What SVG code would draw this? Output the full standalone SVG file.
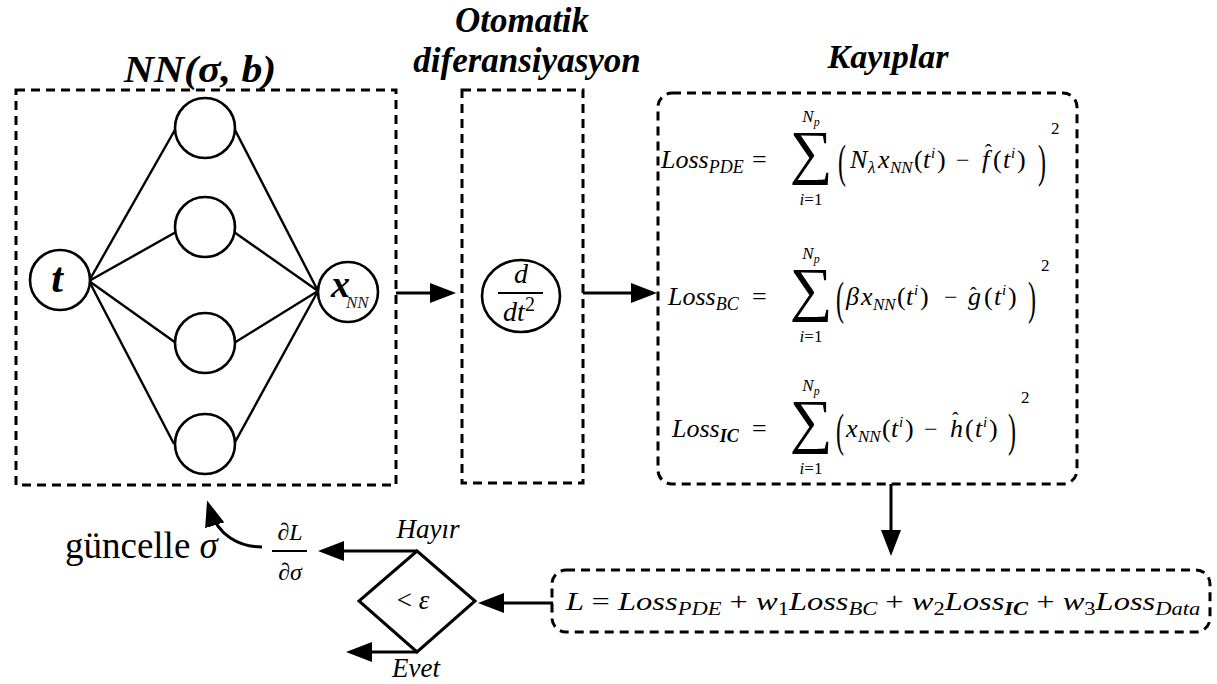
<svg xmlns="http://www.w3.org/2000/svg" width="1217" height="684" viewBox="0 0 1217 684">
<defs>
<style>
.box{fill:none;stroke:#000;stroke-width:3;stroke-dasharray:9 6}
.nd{fill:#fff;stroke:#000;stroke-width:2.6}
.ed{stroke:#000;stroke-width:2.4;fill:none}
.cn{stroke:#000;stroke-width:3;fill:none}
</style>
<marker id="ah" viewBox="0 0 26 20" refX="16" refY="10" markerWidth="26" markerHeight="20" markerUnits="userSpaceOnUse" orient="auto"><path d="M0,0 L26,10 L0,20 z" fill="#000"/></marker>
</defs>
<rect width="1217" height="684" fill="#fff"/>

<!-- titles -->
<g id="titles">
<text transform="translate(200,82) scale(1.1,1)" font-family="Liberation Serif" font-style="italic" font-weight="bold" text-anchor="middle" font-size="38">NN(σ, b)</text>
<text x="522" y="32" font-family="Liberation Serif" font-style="italic" font-weight="bold" text-anchor="middle" font-size="35">Otomatik</text>
<text x="527" y="72" font-family="Liberation Serif" font-style="italic" font-weight="bold" text-anchor="middle" font-size="35">diferansiyasyon</text>
<text x="888" y="68" font-family="Liberation Serif" font-style="italic" font-weight="bold" text-anchor="middle" font-size="34">Kayıplar</text>
</g>

<!-- NN box -->
<g id="nn">
<rect class="box" x="16" y="90" width="380" height="395"/>
<g id="nn-edges">
<line class="ed" x1="89" y1="281" x2="176" y2="128"/>
<line class="ed" x1="89" y1="281" x2="176" y2="232"/>
<line class="ed" x1="89" y1="281" x2="176" y2="343"/>
<line class="ed" x1="89" y1="281" x2="174" y2="444"/>
<line class="ed" x1="234" y1="128" x2="318" y2="291"/>
<line class="ed" x1="234" y1="232" x2="318" y2="291"/>
<line class="ed" x1="234" y1="343" x2="318" y2="291"/>
<line class="ed" x1="234" y1="444" x2="318" y2="291"/>
</g>
<g id="node-t"><circle class="nd" cx="60" cy="280" r="30"/><text x="57" y="292" font-family="Liberation Serif" font-style="italic" font-weight="bold" font-size="42" text-anchor="middle">t</text></g>
<g id="node-h1"><circle class="nd" cx="205" cy="128" r="30"/></g>
<g id="node-h2"><circle class="nd" cx="205" cy="227" r="30"/></g>
<g id="node-h3"><circle class="nd" cx="205" cy="343" r="30"/></g>
<g id="node-h4"><circle class="nd" cx="205" cy="444" r="30"/></g>
<g id="node-x"><circle class="nd" cx="348" cy="292" r="30"/><text x="331" y="297" font-family="Liberation Serif" font-style="italic" font-weight="bold" font-size="38">x</text><text x="346" y="308" font-family="Liberation Serif" font-style="italic" font-size="17" fill="#222">NN</text></g>
</g>

<!-- autodiff -->
<g id="autodiff">
<rect class="box" x="462" y="90" width="121" height="393"/>
<ellipse class="nd" cx="521" cy="296" rx="39" ry="36"/>
<text x="521" y="283" font-family="Liberation Serif" font-style="italic" text-anchor="middle" font-size="28">d</text>
<line x1="498" y1="293" x2="543" y2="293" stroke="#000" stroke-width="2"/>
<text x="519" y="321" font-family="Liberation Serif" font-style="italic" text-anchor="middle" font-size="28">dt<tspan font-style="normal" font-size="20" dy="-10">2</tspan></text>
</g>

<!-- losses -->
<g id="losses">
<rect class="box" x="658" y="93" width="419" height="391" rx="14"/>
<!-- PDE -->
<text x="661" y="168" font-family="Liberation Serif" font-style="italic" font-size="26">Loss<tspan font-size="18" dy="5">PDE</tspan></text>
<text x="752" y="168" font-family="Liberation Serif" font-size="26">=</text>
<text x="811" y="172" font-family="Liberation Serif" font-size="60" text-anchor="middle">∑</text>
<text x="811" y="122" font-family="Liberation Serif" font-style="italic" font-size="17" text-anchor="middle">N<tspan font-size="12" dy="4">p</tspan></text>
<text x="811" y="205" font-family="Liberation Serif" font-style="italic" font-size="17" text-anchor="middle">i<tspan font-style="normal">=1</tspan></text>
<text font-family="Liberation Serif" font-size="24" transform="translate(838,177) scale(1,1.9)">(</text>
<text y="168" font-family="Liberation Serif" font-style="italic" font-size="26"><tspan x="850">N</tspan><tspan x="868" dy="5" font-size="17">λ</tspan><tspan x="878" dy="-5">x</tspan><tspan x="890" dy="5" font-size="17">NN</tspan><tspan x="914" dy="-5" font-style="normal">(</tspan><tspan x="923">t</tspan><tspan x="931" dy="-10" font-size="15">i</tspan><tspan x="937" dy="10" font-style="normal">)</tspan></text>
<text x="956" y="168" font-family="Liberation Serif" font-size="24">−</text>
<text y="168" font-family="Liberation Serif" font-style="italic" font-size="26"><tspan x="982">f</tspan><tspan x="993" font-style="normal">(</tspan><tspan x="1003">t</tspan><tspan x="1011" dy="-10" font-size="15">i</tspan><tspan x="1017" dy="10" font-style="normal">)</tspan></text>
<text x="985" y="159" font-family="Liberation Serif" font-size="20">ˆ</text>
<text font-family="Liberation Serif" font-size="24" transform="translate(1038,177) scale(1,1.9)">)</text>
<text x="1051" y="134" font-family="Liberation Serif" font-size="17">2</text>
<!-- BC -->
<text x="668" y="305" font-family="Liberation Serif" font-style="italic" font-size="26">Loss<tspan font-size="18" dy="5">BC</tspan></text>
<text x="752" y="305" font-family="Liberation Serif" font-size="26">=</text>
<text x="811" y="309" font-family="Liberation Serif" font-size="60" text-anchor="middle">∑</text>
<text x="811" y="259" font-family="Liberation Serif" font-style="italic" font-size="17" text-anchor="middle">N<tspan font-size="12" dy="4">p</tspan></text>
<text x="811" y="342" font-family="Liberation Serif" font-style="italic" font-size="17" text-anchor="middle">i<tspan font-style="normal">=1</tspan></text>
<text font-family="Liberation Serif" font-size="24" transform="translate(836,314) scale(1,1.9)">(</text>
<text y="305" font-family="Liberation Serif" font-style="italic" font-size="26"><tspan x="846">β</tspan><tspan x="861">x</tspan><tspan x="873" dy="5" font-size="17">NN</tspan><tspan x="897" dy="-5" font-style="normal">(</tspan><tspan x="906">t</tspan><tspan x="914" dy="-10" font-size="15">i</tspan><tspan x="920" dy="10" font-style="normal">)</tspan></text>
<text x="944" y="305" font-family="Liberation Serif" font-size="24">−</text>
<text y="305" font-family="Liberation Serif" font-style="italic" font-size="26"><tspan x="968">g</tspan><tspan x="984" font-style="normal">(</tspan><tspan x="994">t</tspan><tspan x="1002" dy="-10" font-size="15">i</tspan><tspan x="1008" dy="10" font-style="normal">)</tspan></text>
<text x="970" y="302" font-family="Liberation Serif" font-size="20">ˆ</text>
<text font-family="Liberation Serif" font-size="24" transform="translate(1028,314) scale(1,1.9)">)</text>
<text x="1041" y="271" font-family="Liberation Serif" font-size="17">2</text>
<!-- IC -->
<text x="672" y="437" font-family="Liberation Serif" font-style="italic" font-size="26">Loss<tspan font-size="18" font-weight="bold" dy="5">IC</tspan></text>
<text x="752" y="437" font-family="Liberation Serif" font-size="26">=</text>
<text x="811" y="441" font-family="Liberation Serif" font-size="60" text-anchor="middle">∑</text>
<text x="811" y="391" font-family="Liberation Serif" font-style="italic" font-size="17" text-anchor="middle">N<tspan font-size="12" dy="4">p</tspan></text>
<text x="811" y="474" font-family="Liberation Serif" font-style="italic" font-size="17" text-anchor="middle">i<tspan font-style="normal">=1</tspan></text>
<text font-family="Liberation Serif" font-size="24" transform="translate(836,446) scale(1,1.9)">(</text>
<text y="437" font-family="Liberation Serif" font-style="italic" font-size="26"><tspan x="846">x</tspan><tspan x="858" dy="5" font-size="17">NN</tspan><tspan x="882" dy="-5" font-style="normal">(</tspan><tspan x="891">t</tspan><tspan x="899" dy="-10" font-size="15">i</tspan><tspan x="905" dy="10" font-style="normal">)</tspan></text>
<text x="924" y="437" font-family="Liberation Serif" font-size="24">−</text>
<text y="437" font-family="Liberation Serif" font-style="italic" font-size="26"><tspan x="950">h</tspan><tspan x="965" font-style="normal">(</tspan><tspan x="975">t</tspan><tspan x="983" dy="-10" font-size="15">i</tspan><tspan x="989" dy="10" font-style="normal">)</tspan></text>
<text x="952" y="427" font-family="Liberation Serif" font-size="20">ˆ</text>
<text font-family="Liberation Serif" font-size="24" transform="translate(1008,446) scale(1,1.9)">)</text>
<text x="1021" y="403" font-family="Liberation Serif" font-size="17">2</text>
</g>

<!-- total loss -->
<g id="total-loss">
<rect class="box" x="552" y="570" width="658" height="62" rx="14"/>
<text transform="translate(566,610) scale(1.25,1)" font-family="Liberation Serif" font-style="italic" font-size="26">L <tspan font-style="normal">=</tspan> Loss<tspan font-size="18" dy="5">PDE</tspan><tspan font-style="normal" dy="-5"> + </tspan>w<tspan font-size="18" font-style="normal" dy="5">1</tspan><tspan dy="-5">Loss</tspan><tspan font-size="18" dy="5">BC</tspan><tspan font-style="normal" dy="-5"> + </tspan>w<tspan font-size="18" font-style="normal" dy="5">2</tspan><tspan dy="-5">Loss</tspan><tspan font-size="18" font-weight="bold" dy="5">IC</tspan><tspan font-style="normal" dy="-5"> + </tspan>w<tspan font-size="18" font-style="normal" dy="5">3</tspan><tspan dy="-5">Loss</tspan><tspan font-size="18" dy="5">Data</tspan></text>
</g>

<!-- decision -->
<g id="decision">
<polygon points="417,551 475,601 417,652 359,601" fill="#fff" stroke="#000" stroke-width="3"/>
<text x="413" y="609" font-family="Liberation Serif" font-style="italic" text-anchor="middle" font-size="27"><tspan font-style="normal">&lt;</tspan> ε</text>
</g>

<!-- labels -->
<g id="labels">
<text x="428" y="538" font-family="Liberation Serif" font-style="italic" text-anchor="middle" font-size="27">Hayır</text>
<text x="416" y="677" font-family="Liberation Serif" font-style="italic" text-anchor="middle" font-size="27">Evet</text>
<text x="290" y="540" font-family="Liberation Serif" font-style="italic" text-anchor="middle" font-size="24"><tspan font-style="normal">∂</tspan>L</text>
<line x1="272" y1="551" x2="307" y2="551" stroke="#000" stroke-width="2"/>
<text x="290" y="580" font-family="Liberation Serif" font-style="italic" text-anchor="middle" font-size="24"><tspan font-style="normal">∂</tspan>σ</text>
<text x="65" y="558" font-family="Liberation Serif" font-size="37">güncelle <tspan font-style="italic">σ</tspan></text>
</g>

<!-- connectors -->
<g id="connectors">
<line class="cn" x1="396" y1="293" x2="446" y2="293" marker-end="url(#ah)"/>
<line class="cn" x1="583" y1="293" x2="647" y2="293" marker-end="url(#ah)"/>
<line class="cn" x1="891" y1="484" x2="891" y2="546" marker-end="url(#ah)"/>
<line class="cn" x1="553" y1="603" x2="488" y2="603" marker-end="url(#ah)"/>
<line class="cn" x1="417" y1="551" x2="328" y2="551" marker-end="url(#ah)"/>
<line class="cn" x1="417" y1="652" x2="356" y2="652" marker-end="url(#ah)"/>
<path class="cn" d="M262,547 C240,547 218,536 210,510" marker-end="url(#ah)"/>
</g>
</svg>
